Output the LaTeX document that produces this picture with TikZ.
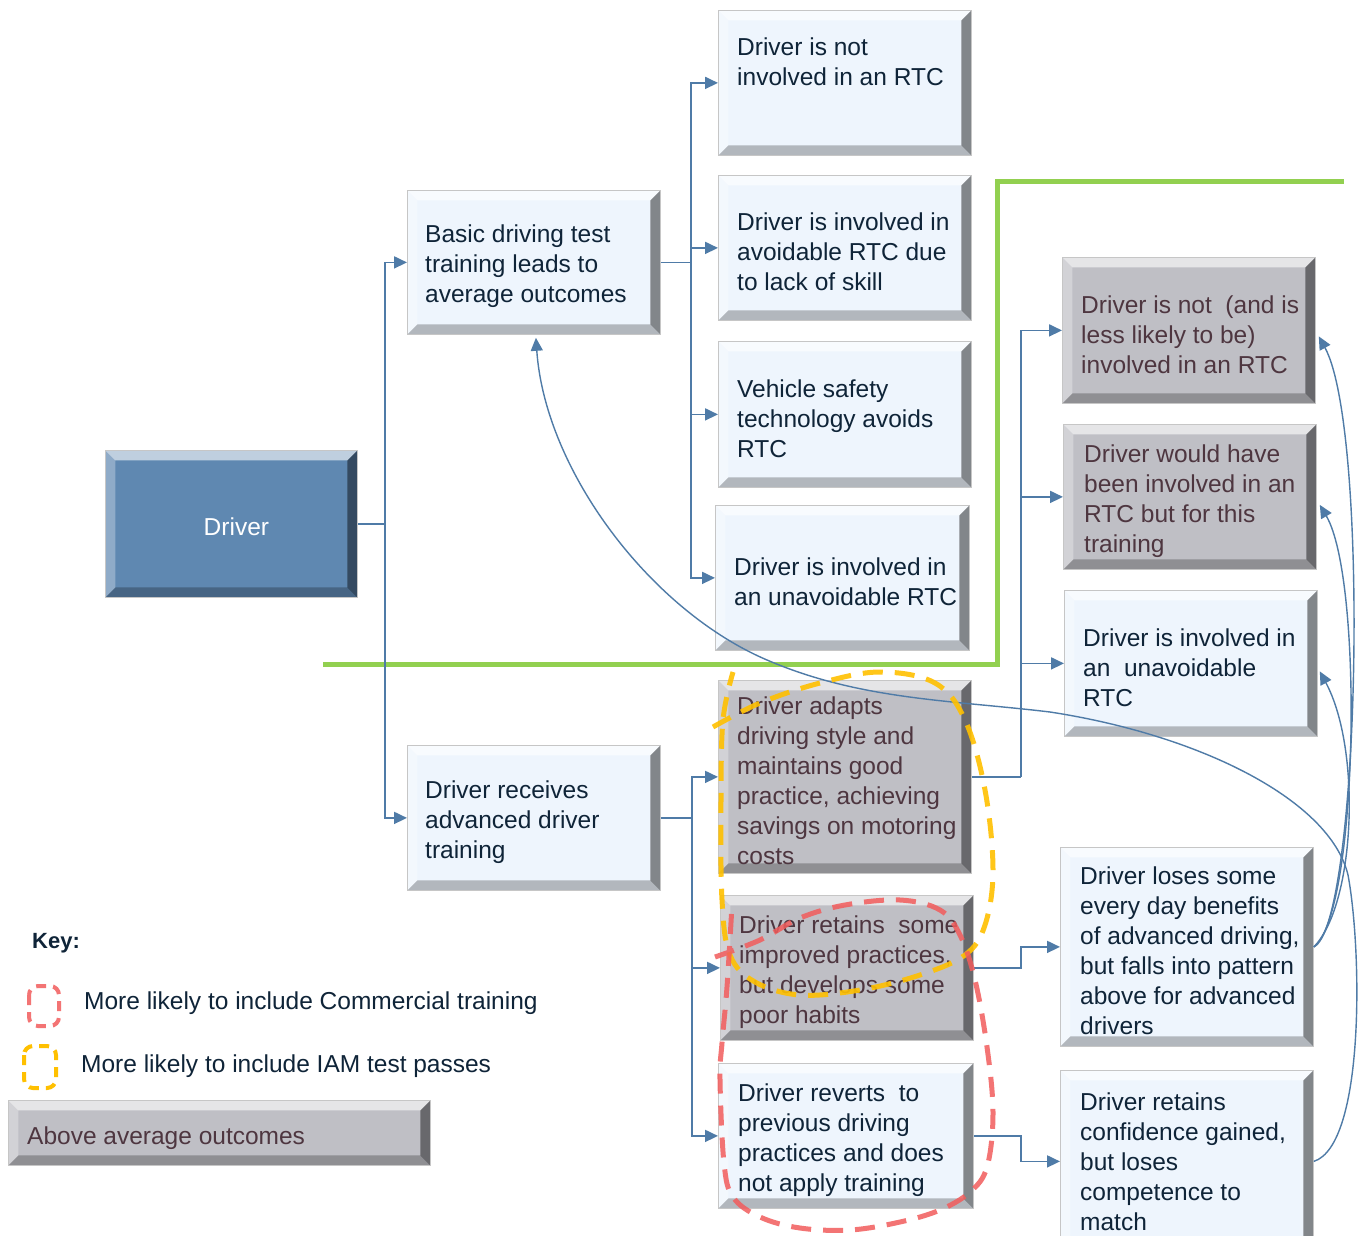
\documentclass[tikz,border=0pt]{standalone}
\usepackage{fontspec}
\setmainfont{Liberation Sans}
\usetikzlibrary{arrows.meta}
\definecolor{lightfill}{HTML}{EEF5FD}
\definecolor{greyfill}{HTML}{BFBFC5}
\definecolor{drvfill}{HTML}{5F88B1}
\definecolor{connc}{HTML}{4F7BA7}
\definecolor{darktext}{HTML}{0F2438}
\definecolor{greytext}{HTML}{4E3640}
\definecolor{grn}{HTML}{92D050}
\definecolor{yel}{HTML}{FFC000}
\definecolor{redd}{HTML}{F25C5C}
\tikzset{
  bevel/.style={path picture={
    \coordinate (pnw) at (path picture bounding box.north west);
    \coordinate (pne) at (path picture bounding box.north east);
    \coordinate (psw) at (path picture bounding box.south west);
    \coordinate (pse) at (path picture bounding box.south east);
    \fill[white,opacity=0.6] (pnw) -- (pne) -- ([shift={(-10,10)}]pne) -- ([shift={(10,10)}]pnw) -- cycle;
    \fill[white,opacity=0.3] (pnw) -- ([shift={(10,10)}]pnw) -- ([shift={(10,-10)}]psw) -- (psw) -- cycle;
    \fill[black,opacity=0.45] (pne) -- (pse) -- ([shift={(-10,-10)}]pse) -- ([shift={(-10,10)}]pne) -- cycle;
    \fill[black,opacity=0.25] (psw) -- (pse) -- ([shift={(-10,-10)}]pse) -- ([shift={(10,-10)}]psw) -- cycle;
  }},
  box/.style={rectangle, bevel, draw=gray!45, line width=0.8pt, inner sep=0pt, anchor=north west},
  lbox/.style={box, fill=lightfill},
  gbox/.style={box, fill=greyfill},
  dbox/.style={box, fill=drvfill},
  btxt/.style={anchor=west, align=left, inner sep=0pt, font=\fontsize{24.5}{30}\selectfont},
  dtxt/.style={btxt, text=darktext},
  gtxt/.style={btxt, text=greytext},
  conn/.style={draw=connc, line width=1.8pt},
  connarr/.style={conn, -{Triangle[length=13pt,width=12pt]}},
  curv/.style={draw=connc, line width=1.4pt, -{Triangle[length=13pt,width=12pt]}},
  grnline/.style={draw=grn, line width=5pt},
  yloop/.style={draw=yel, line width=5pt, dash pattern=on 20pt off 12pt, opacity=0.9},
  rloop/.style={draw=redd, line width=5pt, dash pattern=on 20pt off 12pt, opacity=0.85},
  yicon/.style={draw=yel, line width=4pt, dash pattern=on 10pt off 7pt, rounded corners=9pt},
  ricon/.style={draw=redd, line width=4pt, dash pattern=on 10pt off 7pt, rounded corners=9pt, opacity=0.85},
}
\newcommand\mybox[6]{\node[#2, minimum width={(#5-#3)*1pt}, minimum height={(#6-#4)*1pt}] (#1) at (#3,#4) {};}
\begin{document}
\begin{tikzpicture}[x=1pt,y=-1pt]
\useasboundingbox[fill=white] (0,0) rectangle (1370,1236);

% boxes
\mybox{driver}{dbox}{105}{450}{357}{597}
\mybox{basic}{lbox}{407}{190}{660}{334}
\mybox{b1}{lbox}{718}{10}{971}{155}
\mybox{b2}{lbox}{718}{175}{971}{320}
\mybox{b3}{lbox}{718}{341}{971}{487}
\mybox{b4}{lbox}{715}{505}{969}{650}
\mybox{adv}{lbox}{407}{745}{660}{890}
\mybox{c1}{gbox}{718}{680}{971}{873}
\mybox{c2}{gbox}{720}{895}{973}{1040}
\mybox{c3}{lbox}{718}{1063}{973}{1208}
\mybox{r1}{gbox}{1062}{257}{1315}{403}
\mybox{r2}{gbox}{1063}{424}{1316}{569}
\mybox{r3}{lbox}{1064}{590}{1317}{736}
\mybox{r4}{lbox}{1060}{847}{1313}{1046}
\mybox{r5}{lbox}{1060}{1070}{1313}{1252}
\mybox{keybox}{gbox}{8}{1100}{430}{1165}

% texts
\node[btxt, anchor=center, text=white] (driver-t) at ([shift={(5,3)}]driver.center) {Driver};
\node[dtxt] (basic-t) at ([shift={(18,4)}]basic.west) {Basic driving test\\training leads to\\average outcomes};
\node[dtxt] (b1-t) at ([shift={(19,-21)}]b1.west) {Driver is not\\involved in an RTC};
\node[dtxt] (b2-t) at ([shift={(19,4)}]b2.west) {Driver is involved in\\avoidable RTC due\\to lack of skill};
\node[dtxt] (b3-t) at ([shift={(19,4)}]b3.west) {Vehicle safety\\technology avoids\\RTC};
\node[dtxt] (b4-t) at ([shift={(19,4)}]b4.west) {Driver is involved in\\an unavoidable RTC};
\node[dtxt] (adv-t) at ([shift={(18,4)}]adv.west) {Driver receives\\advanced driver\\training};
\node[gtxt] (c1-t) at ([shift={(19,4)}]c1.west) {Driver adapts\\driving style and\\maintains good\\practice, achieving\\savings on motoring\\costs};
\node[gtxt] (c2-t) at ([shift={(19,4)}]c2.west) {Driver retains\ \ some\\improved practices,\\but develops some\\poor habits};
\node[dtxt] (c3-t) at ([shift={(20,4)}]c3.west) {Driver reverts\ \ to\\previous driving\\practices and does\\not apply training};
\node[gtxt] (r1-t) at ([shift={(19,4)}]r1.west) {Driver is not\ \ (and is\\less likely to be)\\involved in an RTC};
\node[gtxt] (r2-t) at ([shift={(21,4)}]r2.west) {Driver would have\\been involved in an\\RTC but for this\\training};
\node[dtxt] (r3-t) at ([shift={(19,4)}]r3.west) {Driver is involved in\\an\ \ unavoidable\\RTC};
\node[dtxt] (r4-t) at ([shift={(20,4)}]r4.west) {Driver loses some\\every day benefits\\of advanced driving,\\but falls into pattern\\above for advanced\\drivers};
\node[dtxt] (r5-t) at ([shift={(20,0)}]r5.west) {Driver retains\\confidence gained,\\but loses\\competence to\\match};
\node[gtxt] (keybox-t) at ([shift={(19,5)}]keybox.west) {Above average outcomes};

% key
\node[dtxt, font=\fontsize{22}{26}\selectfont\bfseries] (key-t) at (32,943) {Key:};
\draw[ricon] (29,986) rectangle (59,1026);
\draw[yicon] (24,1046) rectangle (56,1088);
\node[dtxt] (kr-t) at (84,1003) {More likely to include Commercial training};
\node[dtxt] (ky-t) at (81,1066) {More likely to include IAM test passes};

% green boundary
\draw[grnline] (323,664) -- (997,664) -- (997,181) -- (1344,181);

% connectors
\path (driver.east) ++(27,0) coordinate (j1);
\path (basic.east) ++(30,0) coordinate (j2);
\path (adv.east) ++(31,0) coordinate (j3);
\path (c1.east) ++(49,0) coordinate (j4);
\draw[conn] (driver.east) -- (j1);
\draw[connarr] (j1) |- (basic.west);
\draw[connarr] (j1) |- (adv.west);
\draw[conn] (basic.east) -- (j2);
\draw[connarr] (j2) |- (b1.west);
\draw[connarr] (j2) |- (b2.west);
\draw[connarr] (j2) |- (b3.west);
\draw[connarr] (j2) |- (b4.west);
\draw[conn] (adv.east) -- (j3);
\draw[connarr] (j3) |- (c1.west);
\draw[connarr] (j3) |- (c2.west);
\draw[connarr] (j3) |- (c3.west);
\draw[conn] (c1.east) -- (j4);
\draw[connarr] (j4) |- (r1.west);
\draw[connarr] (j4) |- (r2.west);
\draw[connarr] (j4) |- (r3.west);
\draw[connarr] (c2.east) -- ++(47,0) |- (r4.west);
\draw[connarr] (c3.east) -- ++(47,0) |- (r5.west);

% curves
\draw[curv] (r4.east) .. controls (1360,925) and (1370,430) .. ([shift={(3,6)}]r1.east);
\draw[curv] (r4.east) .. controls (1358,915) and (1364,580) .. ([shift={(3,8)}]r2.east);
\draw[curv] (r4.east) .. controls (1355,905) and (1362,750) .. ([shift={(2,8)}]r3.east);
\draw[curv] (r5.east) .. controls (1365,1145) and (1362,950) .. (1348,875)
  .. controls (1330,800) and (1200,735) .. (1050,712)
  .. controls (950,700) and (860,700) .. (767,660)
  .. controls (650,610) and (545,470) .. ([shift={(2,3)}]basic.south);

% dashed groupings
\draw[yloop] plot[smooth, tension=0.6] coordinates {(713,727) (760,703) (820,683) (880,672) (935,683) (965,720) (985,790) (993,870) (985,925) (965,955) (920,975) (860,990) (800,995) (755,982) (730,955) (722,900) (721,800) (723,720) (733,672)};
\draw[rloop] plot[smooth, tension=0.6] coordinates {(715,957) (760,940) (800,918) (845,905) (900,900) (940,910) (960,935) (975,980) (987,1047) (993,1113) (987,1167) (970,1192) (940,1210) (900,1222) (850,1230) (800,1228) (760,1217) (733,1197) (724,1163) (720,1080) (722,1043) (727,987) (732,905)};
\end{tikzpicture}
\end{document}
